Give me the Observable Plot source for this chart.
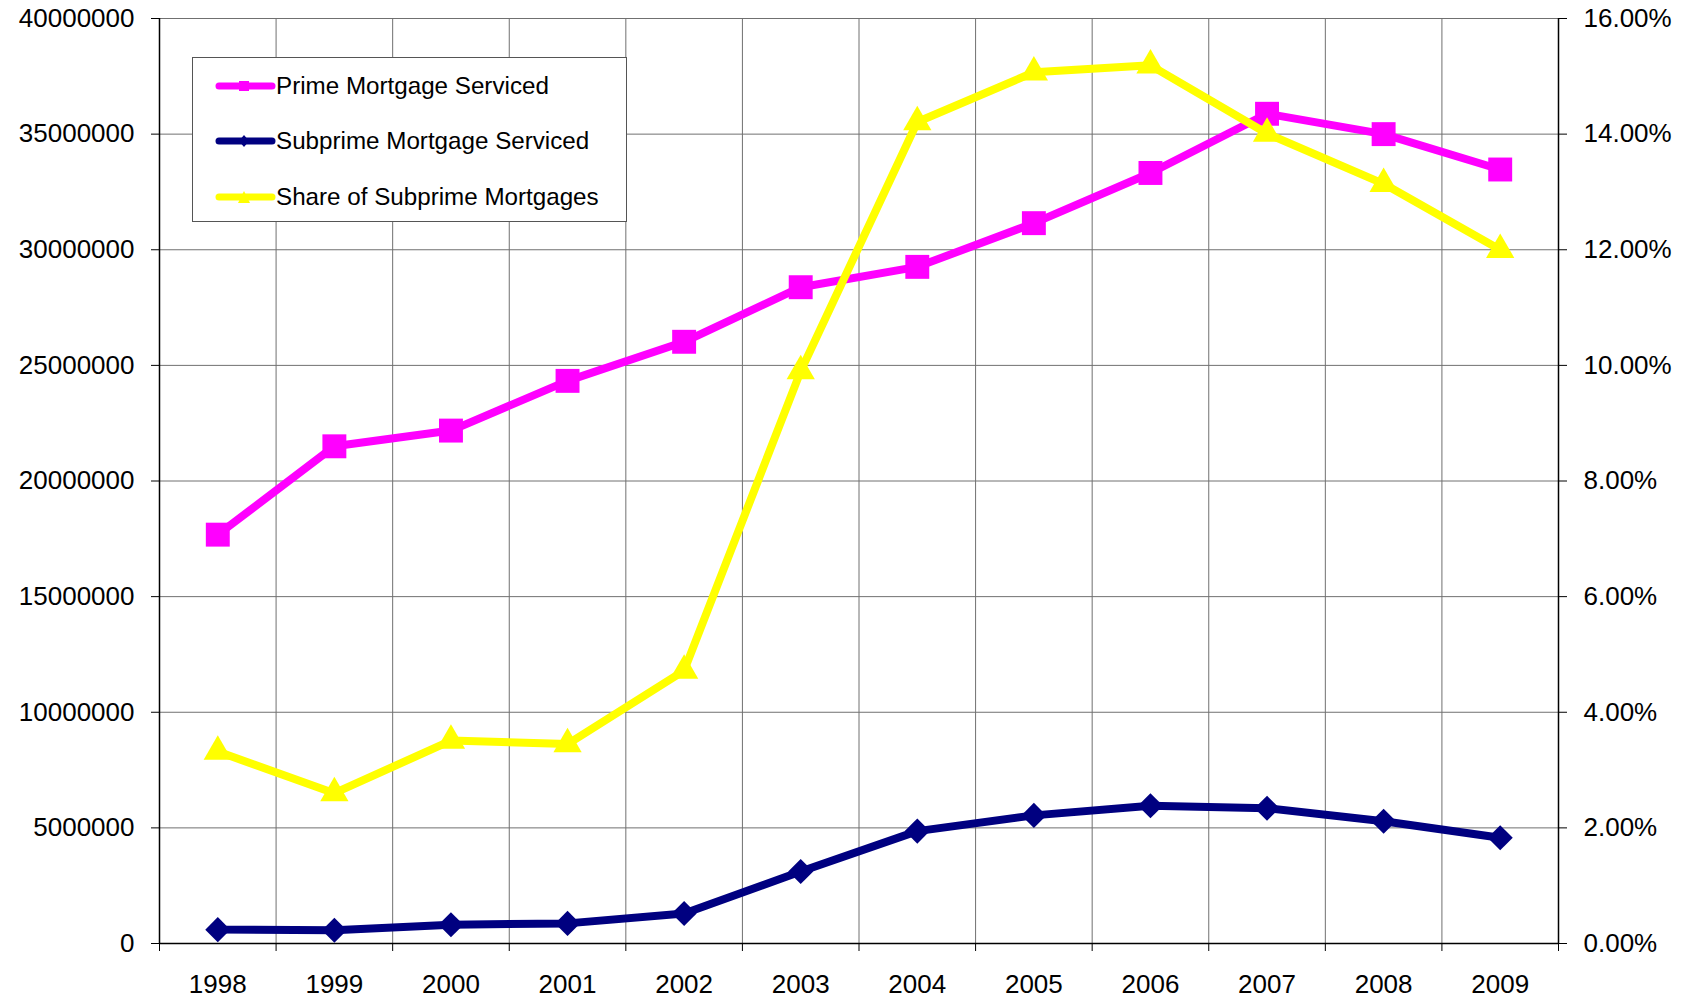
<!DOCTYPE html>
<html>
<head>
<meta charset="utf-8">
<script src="https://cdn.jsdelivr.net/npm/d3@7"></script>
<script src="https://cdn.jsdelivr.net/npm/@observablehq/plot@0.6"></script>
<style>
  html, body { margin: 0; padding: 0; background: #fff; }
  #wrap { position: relative; width: 1682px; height: 1000px; font-family: "Liberation Sans", Arial, sans-serif; }
  #legend { position: absolute; left: 192px; top: 57px; width: 435px; height: 165px; background: #fff; border: 1px solid #555; box-sizing: border-box; }
  .item { position: absolute; left: 22px; height: 30px; display: flex; align-items: center; font-size: 24.2px; color: #000; white-space: nowrap; }
  .item svg { margin-right: 0px; }
</style>
</head>
<body>
<div id="wrap"></div>
<script>
const years = [1998, 1999, 2000, 2001, 2002, 2003, 2004, 2005, 2006, 2007, 2008, 2009];
const prime = [17680000, 21500000, 22180000, 24330000, 26020000, 28380000, 29260000, 31150000, 33320000, 35880000, 35000000, 33470000];
const subprime = [600000, 570000, 810000, 870000, 1300000, 3110000, 4860000, 5540000, 5960000, 5850000, 5290000, 4570000];
const sharePct = [3.32, 2.60, 3.51, 3.45, 4.72, 9.90, 14.21, 15.07, 15.19, 14.01, 13.14, 12.00];
const leftTicks = [0, 5000000, 10000000, 15000000, 20000000, 25000000, 30000000, 35000000, 40000000];
const rightTicks = [0, 2, 4, 6, 8, 10, 12, 14, 16];
const seriesNames = ["Prime Mortgage Serviced", "Subprime Mortgage Serviced", "Share of Subprime Mortgages"];
const seriesColors = ["#ff00ff", "#000080", "#ffff00"];

// secondary axis mapping: 16% <-> 40,000,000
const k = 40000000 / 16;
const bounds = years.map(y => y - 0.5).concat([years[years.length - 1] + 0.5]);

const primeData = years.map((y, i) => ({year: y, v: prime[i]}));
const subData = years.map((y, i) => ({year: y, v: subprime[i]}));
const shareData = years.map((y, i) => ({year: y, v: sharePct[i] * k}));

const font = "Liberation Sans, Arial, sans-serif";

const chart = Plot.plot({
  width: 1682,
  height: 1000,
  marginLeft: 159,
  marginRight: 124,
  marginTop: 18,
  marginBottom: 57,
  style: {fontFamily: font, background: "#fff", color: "#000"},
  x: {type: "linear", domain: [bounds[0], bounds[bounds.length - 1]]},
  y: {type: "linear", domain: [0, 40000000]},
  marks: [
    Plot.ruleY(leftTicks, {stroke: "#707070", strokeWidth: 1}),
    Plot.ruleX(bounds, {stroke: "#707070", strokeWidth: 1}),
    Plot.ruleX([bounds[0], bounds[bounds.length - 1]], {stroke: "#000", strokeWidth: 1.5}),
    Plot.ruleY([0], {stroke: "#000", strokeWidth: 1.5}),
    Plot.axisY({anchor: "left", ticks: leftTicks, tickSize: 8, tickPadding: 17, tickFormat: d => String(d), fontSize: 26, label: null, stroke: "#000"}),
    Plot.axisY({anchor: "right", ticks: rightTicks.map(t => t * k), tickSize: 8, tickPadding: 17, tickFormat: d => (d / k).toFixed(2) + "%", fontSize: 26, label: null, stroke: "#000"}),
    Plot.axisX({anchor: "bottom", ticks: bounds, tickSize: 8, tickFormat: () => "", label: null, stroke: "#000"}),
    Plot.axisX({anchor: "bottom", ticks: years, tickSize: 0, tickPadding: 31, tickFormat: d => String(d), fontSize: 26, label: null}),
    Plot.line(primeData, {x: "year", y: "v", stroke: seriesColors[0], strokeWidth: 8, strokeLinejoin: "round"}),
    Plot.dot(primeData, {x: "year", y: "v", symbol: "square", r: 13.5, fill: seriesColors[0], stroke: "none"}),
    Plot.line(subData, {x: "year", y: "v", stroke: seriesColors[1], strokeWidth: 8, strokeLinejoin: "round"}),
    Plot.dot(subData, {x: "year", y: "v", symbol: "diamond2", r: 11.3, fill: seriesColors[1], stroke: "none"}),
    Plot.line(shareData, {x: "year", y: "v", stroke: seriesColors[2], strokeWidth: 8, strokeLinejoin: "round"}),
    Plot.dot(shareData, {x: "year", y: "v", symbol: "triangle", r: 10.5, fill: seriesColors[2], stroke: "none"})
  ]
});

const wrap = document.getElementById("wrap");
wrap.appendChild(chart);

// Legend overlay
const legend = document.createElement("div");
legend.id = "legend";
const symbols = ["square", "diamond", "triangle"];
const rowTops = [13, 68, 124];
seriesNames.forEach((name, i) => {
  const item = document.createElement("div");
  item.className = "item";
  item.style.top = rowTops[i] + "px";
  const c = seriesColors[i];
  let marker = "";
  if (symbols[i] === "square") marker = `<rect x="24" y="10" width="10" height="10" fill="${c}"/>`;
  if (symbols[i] === "diamond") marker = `<path d="M29,9 L34,15 L29,21 L24,15 Z" fill="${c}"/>`;
  if (symbols[i] === "triangle") marker = `<path d="M29,9 L35,21 L23,21 Z" fill="${c}"/>`;
  item.innerHTML = `<svg width="61" height="30"><line x1="4" y1="15" x2="57" y2="15" stroke="${c}" stroke-width="7" stroke-linecap="round"/>${marker}</svg><span>${name}</span>`;
  legend.appendChild(item);
});
wrap.appendChild(legend);
</script>
</body>
</html>
